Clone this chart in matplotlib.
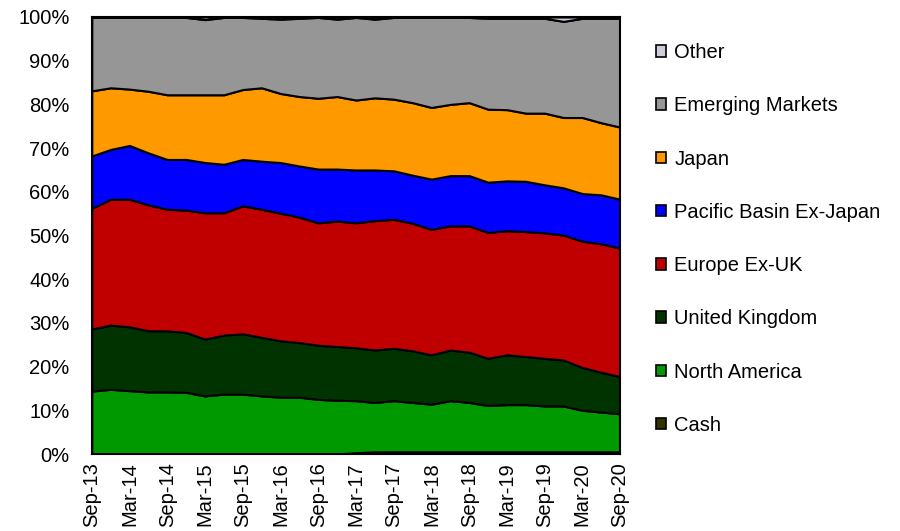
import matplotlib
matplotlib.use("Agg")
import matplotlib.pyplot as plt
from matplotlib.patches import Patch
import numpy as np

plt.rcParams['font.family'] = ['Liberation Sans', 'DejaVu Sans']

quarters = ["Sep-13", "Dec-13", "Mar-14", "Jun-14", "Sep-14", "Dec-14", "Mar-15", "Jun-15",
            "Sep-15", "Dec-15", "Mar-16", "Jun-16", "Sep-16", "Dec-16", "Mar-17", "Jun-17",
            "Sep-17", "Dec-17", "Mar-18", "Jun-18", "Sep-18", "Dec-18", "Mar-19", "Jun-19",
            "Sep-19", "Dec-19", "Mar-20", "Jun-20", "Sep-20"]

cash = [0.0] * 14 + [0.3] + [0.5] * 14
north_america = [14.4, 14.8, 14.5, 14.2, 14.2, 14.1, 13.3, 13.7, 13.7, 13.3, 13.0, 13.0, 12.5, 12.3,
                 11.9, 11.3, 11.7, 11.3, 10.9, 11.7, 11.3, 10.6, 10.8, 10.8, 10.5, 10.5, 9.5, 9.1, 8.7]
united_kingdom = [14.2, 14.7, 14.6, 14.0, 14.0, 13.7, 13.0, 13.5, 13.8, 13.4, 12.9, 12.5, 12.4, 12.3,
                  12.1, 12.0, 12.0, 11.8, 11.3, 11.6, 11.5, 10.8, 11.4, 11.0, 10.9, 10.5, 9.8, 9.1, 8.5]
europe_ex_uk = [27.6, 28.8, 29.2, 28.8, 27.8, 28.0, 28.9, 28.0, 29.3, 29.3, 29.2, 28.7, 28.0, 28.7,
                28.6, 29.6, 29.5, 29.2, 28.7, 28.4, 28.9, 28.8, 28.4, 28.6, 28.7, 28.6, 28.9, 29.4, 29.4]
pacific_ex_japan = [12.0, 11.4, 12.3, 11.9, 11.4, 11.6, 11.5, 11.1, 10.6, 11.0, 11.6, 11.7, 12.3, 11.9,
                    12.1, 11.6, 11.1, 11.0, 11.5, 11.5, 11.5, 11.5, 11.4, 11.5, 11.0, 10.8, 10.9, 11.2, 11.2]
japan = [14.9, 14.1, 12.9, 14.1, 14.8, 14.8, 15.5, 15.9, 16.0, 16.8, 15.8, 15.9, 16.2, 16.6,
         16.0, 16.5, 16.4, 16.6, 16.4, 16.3, 16.7, 16.7, 16.3, 15.6, 16.4, 16.1, 17.4, 16.5, 16.5]
emerging = [16.8, 16.1, 16.4, 16.9, 17.7, 17.7, 17.2, 17.7, 16.5, 15.9, 17.0, 17.9, 18.5, 17.7,
            18.9, 18.0, 18.7, 19.5, 20.6, 19.9, 19.5, 20.8, 20.9, 21.7, 21.7, 22.0, 22.7, 23.9, 24.9]
other = [0.1, 0.1, 0.1, 0.1, 0.1, 0.1, 0.6, 0.1, 0.1, 0.3, 0.5, 0.3, 0.1, 0.5,
         0.1, 0.5, 0.1, 0.1, 0.1, 0.1, 0.1, 0.3, 0.3, 0.3, 0.3, 1.0, 0.3, 0.3, 0.3]

labels = ["Cash", "North America", "United Kingdom", "Europe Ex-UK",
          "Pacific Basin Ex-Japan", "Japan", "Emerging Markets", "Other"]
colors = ["#333300", "#009900", "#003300", "#C00000", "#0000FF", "#FF9900", "#969696", "#CCCCDD"]

series = np.array([cash, north_america, united_kingdom, europe_ex_uk,
                   pacific_ex_japan, japan, emerging, other], dtype=float)
pct = series / series.sum(axis=0) * 100.0
x = np.arange(len(quarters))

fig = plt.figure(figsize=(9, 5.31), dpi=100)
ax = fig.add_axes([0.102, 0.145, 0.587, 0.823])
ax.stackplot(x, pct, colors=colors, edgecolor="black", linewidth=1.5)

ax.set_xlim(0, len(quarters) - 1)
ax.set_ylim(0, 100)
ax.set_yticks(np.arange(0, 101, 10))
ax.set_yticklabels([f"{v}%" for v in range(0, 101, 10)], fontsize=14.5)
ax.set_xticks(x[::2])
ax.set_xticklabels(quarters[::2], rotation=90, fontsize=14.5)
ax.tick_params(axis="x", length=0, pad=6)
ax.tick_params(axis="y", length=0, pad=16)
for s in ax.spines.values():
    s.set_linewidth(1.5)
    s.set_color("black")

handles = [Patch(facecolor=c, edgecolor="black", linewidth=1.2) for c in colors]
leg = fig.legend(handles[::-1], labels[::-1], loc="upper left",
                 bbox_to_anchor=(0.72, 0.934), frameon=False, fontsize=14.5,
                 handlelength=0.5, handleheight=0.5, handletextpad=0.4,
                 labelspacing=1.70, borderaxespad=0)

fig.savefig("out.png", dpi=100)
